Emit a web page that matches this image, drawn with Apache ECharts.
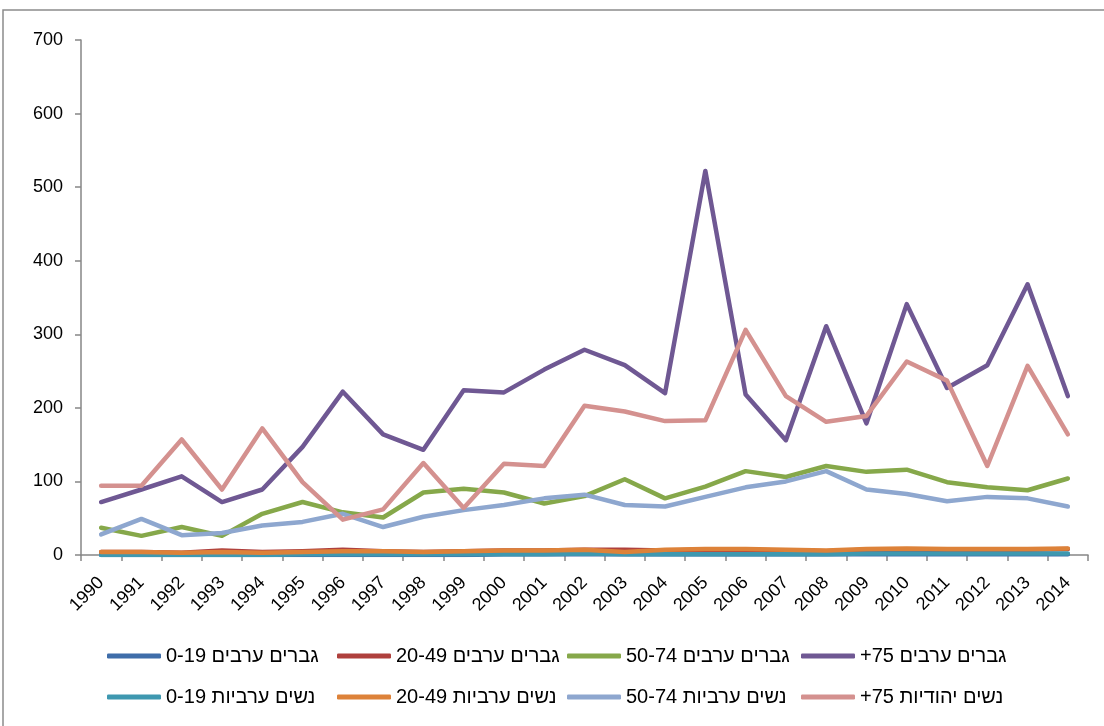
<!DOCTYPE html>
<html>
<head>
<meta charset="utf-8">
<script src="https://cdn.jsdelivr.net/npm/echarts@6/dist/echarts.min.js"></script>
<style>
html,body{margin:0;padding:0;background:#fff;}
#chart{width:1104px;height:726px;}
</style>
</head>
<body>
<div id="chart"></div>
<script>
var years = ['1990','1991','1992','1993','1994','1995','1996','1997','1998','1999','2000','2001','2002','2003','2004','2005','2006','2007','2008','2009','2010','2011','2012','2013','2014'];
var yTicks = {min: 0, max: 700, interval: 100};

var menArab0_19    = [0,0,0,0,0,0,0,0,0,0,1,1,1,1,1,1,1,1,1,1,1,1,1,1,1];
var menArab20_49   = [4,4,3,6,4,5,7,5,4,5,6,6,7,7,6,7,7,6,5,7,7,6,7,7,8];
var menArab50_74   = [37,26,38,26,56,72,58,51,85,90,85,70,80,103,77,93,114,106,121,113,116,99,92,88,104];
var menArab75      = [72,89,107,72,89,147,222,164,143,224,221,252,279,258,220,522,218,156,311,179,341,227,258,368,216];
var womenArab0_19  = [0,0,0,0,0,1,1,1,1,1,1,1,2,1,1,1,1,1,1,2,2,2,2,2,2];
var womenArab20_49 = [4,4,3,4,3,4,5,5,4,5,6,6,7,4,7,8,8,7,6,8,9,8,8,8,9];
var womenArab50_74 = [28,49,27,30,40,45,56,38,52,61,68,77,82,68,66,79,92,100,114,89,83,73,79,77,66];
var womenJewish75  = [94,94,157,89,172,99,48,62,125,64,124,121,203,195,182,183,306,216,181,189,263,237,121,257,164];

var seriesNames = [
  '0-19 גברים ערבים',
  '20-49 גברים ערבים',
  '50-74 גברים ערבים',
  '+75 גברים ערבים',
  '0-19 נשים ערביות',
  '20-49 נשים ערביות',
  '50-74 נשים ערביות',
  '+75 נשים יהודיות'
];
var seriesData = [menArab0_19, menArab20_49, menArab50_74, menArab75, womenArab0_19, womenArab20_49, womenArab50_74, womenJewish75];
var colors = ['#3F6DA9','#AF403D','#86A84A','#6F5893','#3E98B0','#DD8239','#8EA7CF','#D4918F'];

var FONT = '"Liberation Sans", Arial, sans-serif';

var legendCols = [107, 337, 567, 801];
var legendRows = [646, 687];
var legends = seriesNames.map(function(n, i){
  return {
    data: [{name: n, icon: 'roundRect', itemStyle: {color: colors[i]}}],
    left: legendCols[i % 4],
    top: legendRows[Math.floor(i / 4)],
    padding: 0,
    itemWidth: 54,
    itemHeight: 5,
    itemGap: 0,
    textStyle: {fontFamily: FONT, fontSize: 20, color: '#000'},
    selectedMode: false
  };
});

var chart = echarts.init(document.getElementById('chart'), null, {renderer: 'canvas'});
chart.setOption({
  animation: false,
  backgroundColor: '#fff',
  color: colors,
  textStyle: {fontFamily: FONT},
  graphic: [{
    type: 'rect',
    shape: {x: 3, y: 10, width: 1120, height: 740},
    style: {fill: 'none', stroke: '#8c8c8c', lineWidth: 1.5},
    silent: true,
    z: -1
  }],
  legend: legends,
  grid: {left: 81, right: 16, top: 40, bottom: 171, containLabel: false},
  xAxis: {
    type: 'category',
    data: years,
    boundaryGap: true,
    axisLine: {lineStyle: {color: '#868686', width: 1.5}},
    axisTick: {show: true, length: 6, lineStyle: {color: '#868686', width: 1.5}},
    axisLabel: {rotate: 45, fontSize: 18, color: '#000', fontFamily: FONT, margin: 25, interval: 0},
    splitLine: {show: false}
  },
  yAxis: {
    type: 'value',
    min: yTicks.min,
    max: yTicks.max,
    interval: yTicks.interval,
    axisLine: {show: true, lineStyle: {color: '#868686', width: 1.5}},
    axisTick: {show: true, length: 6, lineStyle: {color: '#868686', width: 1.5}},
    axisLabel: {fontSize: 18, color: '#000', fontFamily: FONT, margin: 18},
    splitLine: {show: false}
  },
  series: seriesNames.map(function(n, i){
    return {
      name: n,
      type: 'line',
      data: seriesData[i],
      symbol: 'none',
      smooth: false,
      lineStyle: {width: 4.5, color: colors[i], cap: 'round', join: 'round'},
      itemStyle: {color: colors[i]},
      z: 2 + i
    };
  })
});
</script>
</body>
</html>
